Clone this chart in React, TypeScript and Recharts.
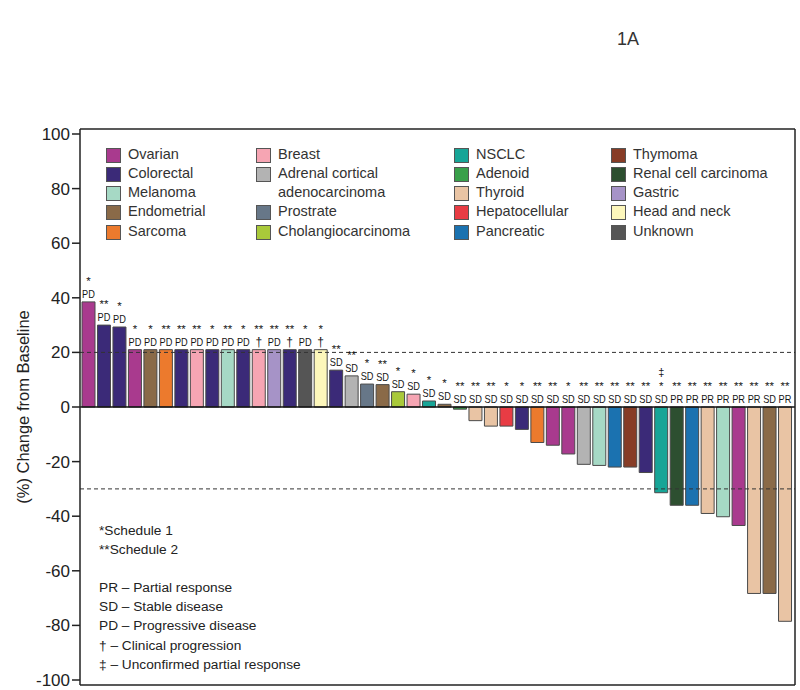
import React from 'react';
import { BarChart, Bar, XAxis, YAxis, ReferenceLine, Cell, LabelList, Label } from 'recharts';

document.body.style.margin = '0';

const FONT = '"Liberation Sans", Arial, Helvetica, sans-serif';

// legend order (4 columns of 5)
const cancerTypes = [
    'Ovarian', 'Colorectal', 'Melanoma', 'Endometrial', 'Sarcoma',
    'Breast', 'Adrenal cortical adenocarcinoma', 'Prostrate', 'Cholangiocarcinoma',
    'NSCLC', 'Adenoid', 'Thyroid', 'Hepatocellular', 'Pancreatic',
    'Thymoma', 'Renal cell carcinoma', 'Gastric', 'Head and neck', 'Unknown',
];
const cancerColors = [
    '#a93a8e', '#3b2a78', '#a6d9c5', '#8a6a48', '#ec7a2d',
    '#f6a5b3', '#b3b3b3', '#677788', '#a9c93a',
    '#17a597', '#39a04a', '#e9c4a4', '#e83c44', '#1b72b0',
    '#873c26', '#2d4f30', '#a693c7', '#fdf7bb', '#555555',
];
const legendColumns = [
    ['Ovarian', 'Colorectal', 'Melanoma', 'Endometrial', 'Sarcoma'],
    ['Breast', 'Adrenal cortical adenocarcinoma', 'Prostrate', 'Cholangiocarcinoma'],
    ['NSCLC', 'Adenoid', 'Thyroid', 'Hepatocellular', 'Pancreatic'],
    ['Thymoma', 'Renal cell carcinoma', 'Gastric', 'Head and neck', 'Unknown'],
];

// one entry per patient, left to right
const tumourTypes = [
    'Ovarian', 'Colorectal', 'Colorectal', 'Ovarian', 'Endometrial', 'Sarcoma', 'Colorectal', 'Breast',
    'Colorectal', 'Melanoma', 'Colorectal', 'Breast', 'Gastric', 'Colorectal', 'Unknown', 'Head and neck',
    'Colorectal', 'Adrenal cortical adenocarcinoma', 'Prostrate', 'Endometrial', 'Cholangiocarcinoma', 'Breast', 'NSCLC', 'Endometrial',
    'Adenoid', 'Thyroid', 'Thyroid', 'Hepatocellular', 'Colorectal', 'Sarcoma', 'Ovarian', 'Ovarian',
    'Adrenal cortical adenocarcinoma', 'Melanoma', 'Pancreatic', 'Thymoma', 'Colorectal', 'NSCLC', 'Renal cell carcinoma', 'Pancreatic',
    'Thyroid', 'Melanoma', 'Ovarian', 'Thyroid', 'Endometrial', 'Thyroid',
];
const changeFromBaseline = [
    38.5, 30, 29.3, 21, 21, 21, 21, 21,
    21, 21, 21, 21, 21, 21, 21, 21,
    13.5, 11.4, 8.4, 8.2, 5.6, 4.7, 2.2, 1,
    -0.8, -5, -7, -7, -8.2, -13, -14, -17.2,
    -21, -21.4, -22, -22, -24, -31.4, -36, -36,
    -39, -40.2, -43.4, -68.3, -68.3, -78.5,
];
const schedules = [
    1, 2, 1, 1, 1, 2, 2, 2,
    1, 2, 1, 2, 2, 2, 1, 1,
    2, 2, 1, 2, 1, 1, 1, 1,
    2, 2, 2, 1, 1, 2, 2, 1,
    2, 2, 2, 2, 2, 1, 2, 2,
    2, 2, 2, 2, 2, 2,
];
const responses = [
    'PD', 'PD', 'PD', 'PD', 'PD', 'PD', 'PD', 'PD',
    'PD', 'PD', 'PD', '†', 'PD', '†', 'PD', '†',
    'SD', 'SD', 'SD', 'SD', 'SD', 'SD', 'SD', 'SD',
    'SD', 'SD', 'SD', 'SD', 'SD', 'SD', 'SD', 'SD',
    'SD', 'SD', 'SD', 'SD', 'SD', 'SD', 'PR', 'PR',
    'PR', 'PR', 'PR', 'PR', 'SD', 'PR',
];
const unconfirmedPR = [37];

const yTicks = [-100, -80, -60, -40, -20, 0, 20, 40, 60, 80, 100];

const footnotes = [
    '*Schedule 1',
    '**Schedule 2',
    '',
    'PR – Partial response',
    'SD – Stable disease',
    'PD – Progressive disease',
    '† – Clinical progression',
    '‡ – Unconfirmed partial response',
];

const colorOf = (type: string) => cancerColors[cancerTypes.indexOf(type)];

const rows = changeFromBaseline.map((v, i) => ({ id: `pt${i + 1}`, change: v, type: tumourTypes[i] }));

// schedule stars + response code stacked above each bar
function BarMarks(props: any) {
    const { x, y, width, height, index } = props;
    if (index == null) return null;
    const top = Math.min(y, y + height);
    const cx = x + width / 2;
    const resp = responses[index];
    const hasDagger = unconfirmedPR.includes(index);
    return (
        <text x={cx} y={top - 4} fontFamily={FONT} fill="#161616" textAnchor="middle">
            {hasDagger && (
                <tspan x={cx} y={top - 31} fontSize={11}>‡</tspan>
            )}
            <tspan x={cx} y={top - 17} fontSize={11.5}>{'*'.repeat(schedules[index])}</tspan>
            {resp === '†' ? (
                <tspan x={cx} y={top - 4} fontSize={12}>{resp}</tspan>
            ) : (
                <tspan x={cx - 6.4} y={top - 4} fontSize={11.4} textAnchor="start" textLength={12.8} lengthAdjust="spacingAndGlyphs">{resp}</tspan>
            )}
        </text>
    );
}

function YTitle(props: any) {
    const vb = props.viewBox || { x: 0, y: 129, width: 80, height: 556 };
    const cx = vb.x + 23;
    const cy = vb.y + vb.height / 2;
    return (
        <text
            x={cx}
            y={cy}
            transform={`rotate(-90 ${cx} ${cy})`}
            textAnchor="middle"
            dominantBaseline="central"
            fontFamily={FONT}
            fontSize={16.5}
            fill="#222"
        >
            (%) Change from Baseline
        </text>
    );
}

function TumourLegend() {
    const colLeft = [106, 256, 454, 611];
    return (
        <>
            {legendColumns.map((col, c) => (
                <div key={c} style={{ position: 'absolute', left: colLeft[c], top: 144.5 }}>
                    {col.map((name) => (
                        <div key={name} style={{ display: 'flex', alignItems: 'flex-start' }}>
                            <div
                                style={{
                                    width: 13,
                                    height: 13,
                                    marginTop: 3,
                                    marginRight: 7,
                                    flexShrink: 0,
                                    backgroundColor: colorOf(name),
                                    border: '1px solid #555',
                                }}
                            />
                            <span style={{ fontFamily: FONT, fontSize: 14.5, lineHeight: '19.3px', color: '#333', width: 145 }}>
                                {name}
                            </span>
                        </div>
                    ))}
                </div>
            ))}
        </>
    );
}

function Footnotes() {
    return (
        <div style={{ position: 'absolute', left: 99, top: 520.5, fontFamily: FONT, fontSize: 13.7, lineHeight: '19.2px', color: '#222' }}>
            {footnotes.map((t, i) => (
                <div key={i} style={{ height: 19.2, whiteSpace: 'pre' }}>{t}</div>
            ))}
        </div>
    );
}

export default function App() {
    const frame = { stroke: '#222', strokeWidth: 1.5 };
    return (
        <div style={{ position: 'relative', width: 800, height: 690 }}>
            <BarChart width={800} height={690} data={rows} margin={{ top: 128, right: 4, bottom: 4, left: 0 }}>
                <XAxis xAxisId="b" dataKey="id" tick={false} tickLine={false} axisLine={frame} height={1} padding={{ left: 1, right: 2 }} />
                <XAxis xAxisId="t" dataKey="id" orientation="top" tick={false} tickLine={false} axisLine={frame} height={1} padding={{ left: 1, right: 2 }} />
                <YAxis
                    yAxisId="l"
                    domain={[-100, 100]}
                    ticks={yTicks}
                    width={80}
                    tickSize={8}
                    tickLine={frame}
                    axisLine={frame}
                    tick={{ fill: '#222', fontSize: 17, fontFamily: FONT }}
                    padding={{ top: 5, bottom: 5 }}
                    label={<Label content={YTitle} />}
                />
                <YAxis yAxisId="r" orientation="right" domain={[-100, 100]} width={1} tick={false} tickLine={false} axisLine={frame} />
                <Bar xAxisId="b" yAxisId="l" dataKey="change" barSize={13} stroke="#4a4a4a" strokeWidth={1} isAnimationActive={false}>
                    {rows.map((r, i) => (
                        <Cell key={`cell-${i}`} fill={colorOf(r.type)} />
                    ))}
                    <LabelList dataKey="change" content={BarMarks} />
                </Bar>
                <ReferenceLine xAxisId="b" yAxisId="l" y={0} stroke="#111" strokeWidth={1.3} />
                <ReferenceLine xAxisId="b" yAxisId="l" y={20} stroke="#333" strokeDasharray="4 3" />
                <ReferenceLine xAxisId="b" yAxisId="l" y={-30} stroke="#333" strokeDasharray="4 3" />
            </BarChart>
            <TumourLegend />
            <Footnotes />
            <div style={{ position: 'absolute', left: 617, top: 29, fontFamily: FONT, fontSize: 18, color: '#333' }}>1A</div>
        </div>
    );
}
